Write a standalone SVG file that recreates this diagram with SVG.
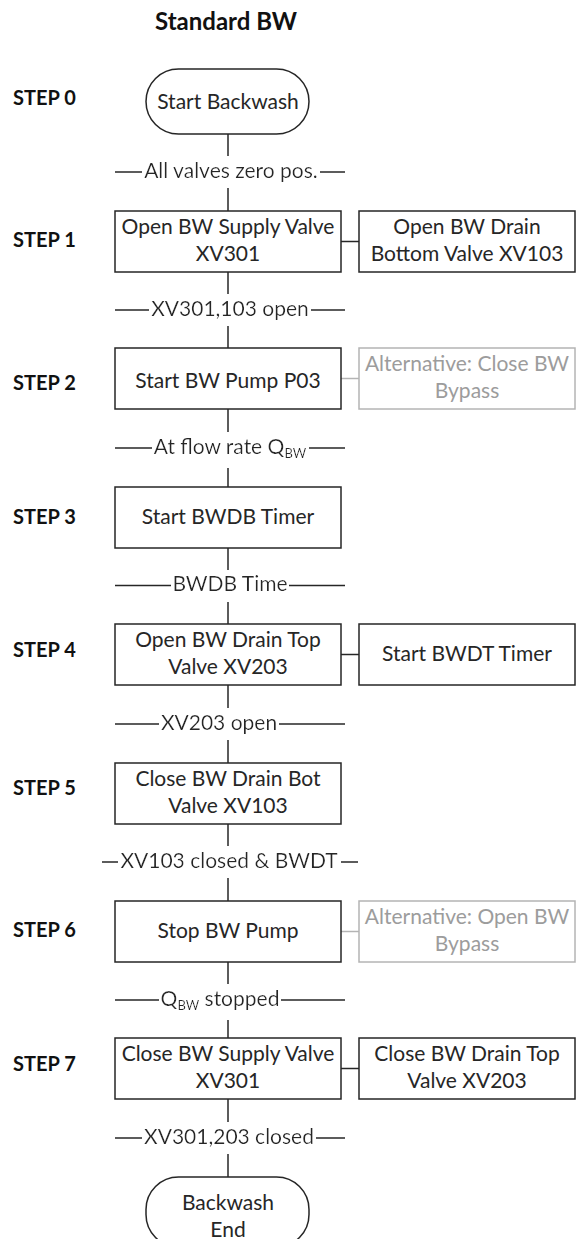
<svg xmlns="http://www.w3.org/2000/svg" width="576" height="1239" viewBox="0 0 576 1239">
<style>
.bx{fill:#fff;stroke:#262626;stroke-width:1.5}
.gb{fill:#fff;stroke:#b4b4b4;stroke-width:1.5}
.ln{stroke:#262626;stroke-width:1.5;fill:none}
.gl{stroke:#b4b4b4;stroke-width:1.5;fill:none}
text{font-family:Lato,"Liberation Sans",sans-serif;font-size:21px;fill:#262626;text-anchor:middle}
.g{fill:#9c9c9c}
.st{font-weight:bold;text-anchor:start;font-size:20px;fill:#111}
.ti{font-weight:bold;font-size:24px;fill:#111}
.lb{filter:url(#bg)}
.sub{font-size:13px}
</style>
<defs>
<filter id="bg" x="-0.01" y="0" width="1.02" height="1.25"><feFlood flood-color="#fff"/><feComposite in="SourceGraphic"/></filter>
</defs>
<text class="ti" x="226" y="30">Standard BW</text>
<g id="step-labels">
<text class="st" x="13" y="105">STEP 0</text>
<text class="st" x="13" y="247">STEP 1</text>
<text class="st" x="13" y="390">STEP 2</text>
<text class="st" x="13" y="524">STEP 3</text>
<text class="st" x="13" y="657">STEP 4</text>
<text class="st" x="13" y="795">STEP 5</text>
<text class="st" x="13" y="937">STEP 6</text>
<text class="st" x="13" y="1071">STEP 7</text>
</g>
<g id="connectors">
<line class="ln" x1="228" y1="134" x2="228" y2="211"/>
<line class="ln" x1="228" y1="272" x2="228" y2="348"/>
<line class="ln" x1="228" y1="409" x2="228" y2="487"/>
<line class="ln" x1="228" y1="548" x2="228" y2="624"/>
<line class="ln" x1="228" y1="685" x2="228" y2="763"/>
<line class="ln" x1="228" y1="824" x2="228" y2="901"/>
<line class="ln" x1="228" y1="962" x2="228" y2="1038"/>
<line class="ln" x1="228" y1="1099" x2="228" y2="1177"/>
<line class="ln" x1="341" y1="241.5" x2="359" y2="241.5"/>
<line class="gl" x1="341" y1="378.5" x2="359" y2="378.5"/>
<line class="ln" x1="341" y1="654.5" x2="359" y2="654.5"/>
<line class="gl" x1="341" y1="931.5" x2="359" y2="931.5"/>
<line class="ln" x1="341" y1="1068.5" x2="359" y2="1068.5"/>
<line class="ln" x1="115" y1="172" x2="345" y2="172"/>
<line class="ln" x1="115" y1="310" x2="345" y2="310"/>
<line class="ln" x1="115" y1="448" x2="345" y2="448"/>
<line class="ln" x1="115" y1="585.5" x2="345" y2="585.5"/>
<line class="ln" x1="115" y1="724" x2="345" y2="724"/>
<line class="ln" x1="102" y1="862" x2="358" y2="862"/>
<line class="ln" x1="115" y1="1000" x2="345" y2="1000"/>
<line class="ln" x1="115" y1="1138" x2="345" y2="1138"/>
<text class="lb" x="231" y="177.5">All valves zero pos.</text>
<text class="lb" x="230" y="315.5">XV301,103 open</text>
<text class="lb" x="230" y="453.5">At flow rate Q<tspan class="sub" dy="4">BW</tspan></text>
<text class="lb" x="230" y="591">BWDB Time</text>
<text class="lb" x="219" y="729.5">XV203 open</text>
<text class="lb" x="229" y="867.5">XV103 closed &amp; BWDT</text>
<text class="lb" x="220" y="1005.5">Q<tspan class="sub" dy="4">BW</tspan><tspan dy="-4"> stopped</tspan></text>
<text class="lb" x="229" y="1143.5">XV301,203 closed</text>
</g>
<g id="start">
<rect class="bx" x="146" y="69" width="163" height="65" rx="32.5"/>
<text x="228" y="108.5">Start Backwash</text>
</g>
<g id="step1">
<rect class="bx" x="115" y="211" width="226" height="61"/>
<text x="228" y="234">Open BW Supply Valve</text>
<text x="228" y="260.5">XV301</text>
</g>
<g id="step1b">
<rect class="bx" x="359" y="211" width="216" height="61"/>
<text x="467" y="234">Open BW Drain</text>
<text x="467" y="260.5">Bottom Valve XV103</text>
</g>
<g id="step2">
<rect class="bx" x="115" y="348" width="226" height="61"/>
<text x="228" y="388">Start BW Pump P03</text>
</g>
<g id="step2b">
<rect class="gb" x="359" y="348" width="216" height="61"/>
<text class="g" x="467" y="371">Alternative: Close BW</text>
<text class="g" x="467" y="397.5">Bypass</text>
</g>
<g id="step3">
<rect class="bx" x="115" y="487" width="226" height="61"/>
<text x="228" y="524">Start BWDB Timer</text>
</g>
<g id="step4">
<rect class="bx" x="115" y="624" width="226" height="61"/>
<text x="228" y="647">Open BW Drain Top</text>
<text x="228" y="673.5">Valve XV203</text>
</g>
<g id="step4b">
<rect class="bx" x="359" y="624" width="216" height="61"/>
<text x="467" y="661">Start BWDT Timer</text>
</g>
<g id="step5">
<rect class="bx" x="115" y="763" width="226" height="61"/>
<text x="228" y="786">Close BW Drain Bot</text>
<text x="228" y="812.5">Valve XV103</text>
</g>
<g id="step6">
<rect class="bx" x="115" y="901" width="226" height="61"/>
<text x="228" y="938">Stop BW Pump</text>
</g>
<g id="step6b">
<rect class="gb" x="359" y="901" width="216" height="61"/>
<text class="g" x="467" y="924">Alternative: Open BW</text>
<text class="g" x="467" y="950.5">Bypass</text>
</g>
<g id="step7">
<rect class="bx" x="115" y="1038" width="226" height="61"/>
<text x="228" y="1061">Close BW Supply Valve</text>
<text x="228" y="1087.5">XV301</text>
</g>
<g id="step7b">
<rect class="bx" x="359" y="1038" width="216" height="61"/>
<text x="467" y="1061">Close BW Drain Top</text>
<text x="467" y="1087.5">Valve XV203</text>
</g>
<g id="end">
<rect class="bx" x="146" y="1177" width="163" height="70" rx="32.5"/>
<text x="228" y="1210">Backwash</text>
<text x="228" y="1236.5">End</text>
</g>
</svg>
